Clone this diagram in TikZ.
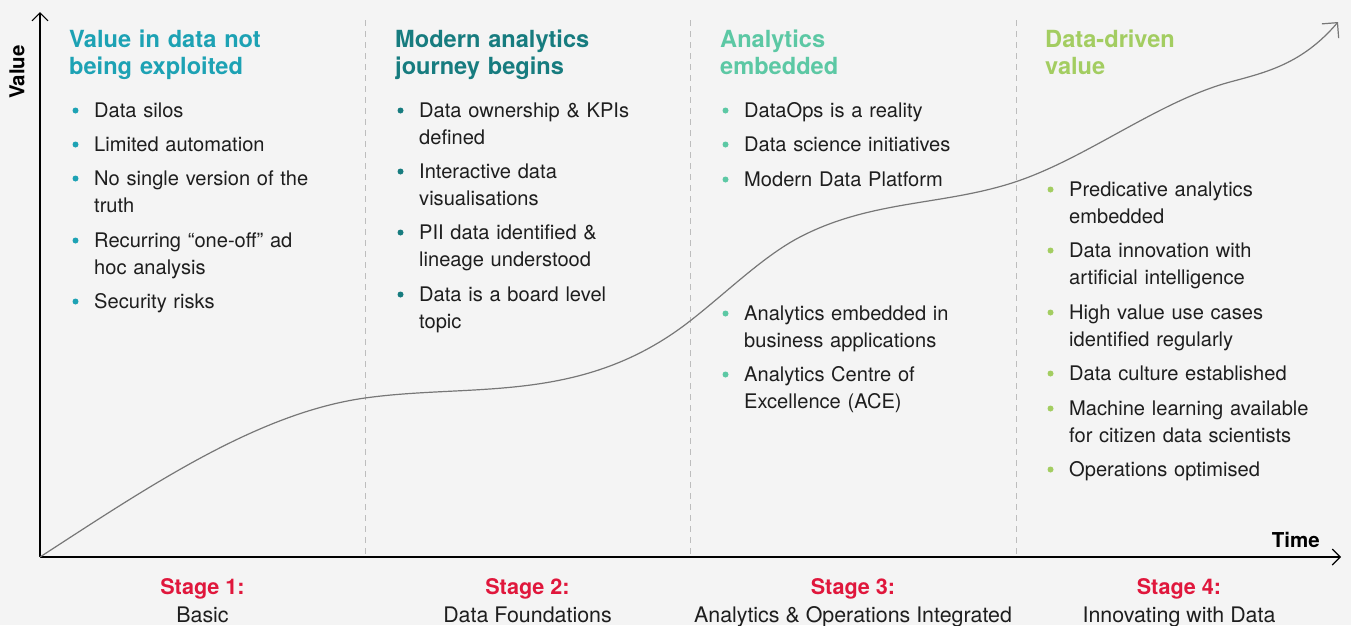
\documentclass[tikz,border=0pt]{standalone}
\usepackage{fontspec}
\setmainfont{TeX Gyre Heros}
\usetikzlibrary{arrows.meta}
\definecolor{bg}{HTML}{F4F4F4}
\definecolor{txt}{HTML}{1E1E1E}
\definecolor{cA}{HTML}{1DA2B4}
\definecolor{cB}{HTML}{177C7F}
\definecolor{cC}{HTML}{5CC8A4}
\definecolor{cD}{HTML}{A3CD61}
\definecolor{stred}{HTML}{E0173C}
\definecolor{dashc}{HTML}{BDBDBD}
\definecolor{curvec}{HTML}{777777}
\begin{document}
\begin{tikzpicture}[x=1pt,y=-1pt,
  headtxt/.style={anchor=base west, inner sep=0pt, text width=320pt, align=left,
    font=\fontsize{23.6}{27.5}\selectfont\bfseries},
  itemtxt/.style={anchor=base west, inner sep=0pt, text width=300pt, align=left,
    font=\fontsize{20.1}{27}\selectfont, text=txt},
  bul/.style={circle, inner sep=0pt, minimum size=6pt, fill=#1},
  axisline/.style={line width=1.1pt, black, -{Straight Barb[length=8pt,width=16pt]}},
  sepline/.style={draw=dashc, line width=1pt, dash pattern=on 6pt off 5pt},
  stagetxt/.style={anchor=base, inner sep=0pt, text=stred, font=\fontsize{21.6}{24}\selectfont\bfseries},
  stnametxt/.style={anchor=base, inner sep=0pt, text=txt, font=\fontsize{21.4}{24}\selectfont},
  growthline/.style={draw=curvec, line width=1.2pt, -{Straight Barb[length=11pt,width=22pt]}}
]
\fill[bg] (0,0) rectangle (1351,625);
\useasboundingbox (0,0) rectangle (1351,625);

% axes
\coordinate (o) at (40,557);
\coordinate (ytop) at (40,12);
\coordinate (xend) at (1341,557);
\coordinate (cend) at (1338,22);
\draw[axisline] (o) -- (ytop);
\draw[axisline] (o) -- (xend);
\node[rotate=90, inner sep=0pt, font=\fontsize{20.5}{24}\selectfont\bfseries] (vlab) at (17,72) {Value};
\node[anchor=base east, inner sep=0pt, font=\fontsize{20.5}{24}\selectfont\bfseries] (tlab) at (1320,547) {Time};

% separators
\foreach \x/\n in {365/s1,690/s2,1016/s3}{
  \coordinate (\n t) at (\x,20);
  \coordinate (\n b) at (\x,557);
  \draw[sepline] (\n t) -- (\n b);
}

% growth curve
\draw[growthline] (o)
  .. controls (148,487) and (257,413.1) .. (365,398)
  .. controls (473,382.9) and (582,405.2) .. (690,321)
  .. controls (726.7,292.4) and (763.3,256.1) .. (800,237)
  .. controls (871.7,199.7) and (943.3,205.7) .. (1015,182)
  .. controls (1086.7,158.3) and (1158.3,101.4) .. (1230,82)
  .. controls (1266,72.3) and (1302,64.1) .. (cend);

% column 1
\node[headtxt, text=cA] (h1) at (69,47) {Value in data not\\being exploited};
\foreach \y/\t [count=\i] in {117/{Data silos},151/{Limited automation},185/{No single version of the\\truth},247/{Recurring “one-off” ad\\hoc analysis},308/{Security risks}}{
  \node[bul=cA] (a\i b) at (75.5,\y-6.5) {};
  \node[itemtxt] (a\i) at (94,\y) {\t};
}

% column 2
\node[headtxt, text=cB] (h2) at (395,47) {Modern analytics\\journey begins};
\foreach \y/\t [count=\i] in {117/{Data ownership \& KPIs\\defined},178/{Interactive data\\visualisations},239/{PII data identified \&\\lineage understood},301/{Data is a board level\\topic}}{
  \node[bul=cB] (b\i b) at (400.5,\y-6.5) {};
  \node[itemtxt] (b\i) at (419,\y) {\t};
}

% column 3
\node[headtxt, text=cC] (h3) at (720,47) {Analytics\\embedded};
\foreach \y/\t [count=\i] in {117/{DataOps is a reality},151/{Data science initiatives},186/{Modern Data Platform},320/{Analytics embedded in\\business applications},381/{Analytics Centre of\\Excellence (ACE)}}{
  \node[bul=cC] (c\i b) at (725.5,\y-6.5) {};
  \node[itemtxt] (c\i) at (744,\y) {\t};
}

% column 4
\node[headtxt, text=cD] (h4) at (1045,47) {Data-driven\\value};
\foreach \y/\t [count=\i] in {196/{Predicative analytics\\embedded},257/{Data innovation with\\artificial intelligence},319/{High value use cases\\identified regularly},380/{Data culture established},415/{Machine learning available\\for citizen data scientists},476/{Operations optimised}}{
  \node[bul=cD] (d\i b) at (1050.5,\y-6.5) {};
  \node[itemtxt] (d\i) at (1069,\y) {\t};
}

% stages
\node[stagetxt] (st1) at (202.5,594) {Stage 1:};
\node[stnametxt] (sn1) at (202.5,622) {Basic};
\node[stagetxt] (st2) at (527.5,594) {Stage 2:};
\node[stnametxt] (sn2) at (527.5,622) {Data Foundations};
\node[stagetxt] (st3) at (853,594) {Stage 3:};
\node[stnametxt] (sn3) at (853,622) {Analytics \& Operations Integrated};
\node[stagetxt] (st4) at (1179,594) {Stage 4:};
\node[stnametxt] (sn4) at (1179,622) {Innovating with Data};
\end{tikzpicture}
\end{document}
